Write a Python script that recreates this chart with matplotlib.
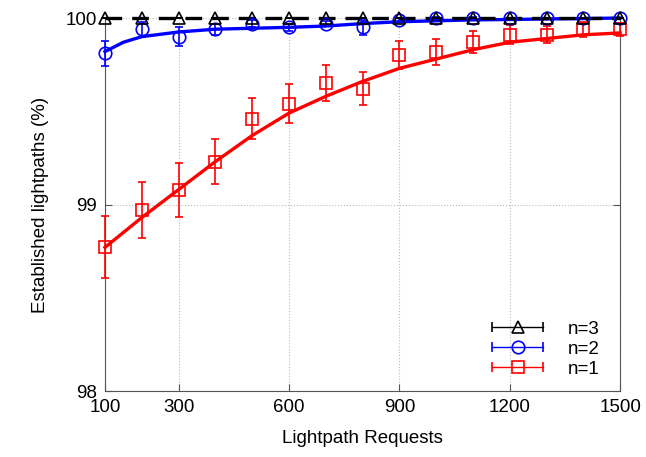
import matplotlib.pyplot as plt
from matplotlib.lines import Line2D
from matplotlib.legend_handler import HandlerLine2D, HandlerTuple

plt.rcParams['font.family'] = ['Liberation Sans', 'DejaVu Sans']

requests = [100, 200, 300, 400, 500, 600, 700, 800, 900, 1000, 1100, 1200, 1300, 1400, 1500]

# measured points with error bars
n1_mean = [98.77, 98.97, 99.08, 99.23, 99.46, 99.54, 99.65, 99.62, 99.80, 99.82, 99.87, 99.91, 99.91, 99.94, 99.94]
n1_err = [0.166, 0.15, 0.145, 0.12, 0.11, 0.105, 0.097, 0.088, 0.075, 0.07, 0.06, 0.05, 0.045, 0.04, 0.035]
n2_mean = [99.81, 99.94, 99.90, 99.94, 99.97, 99.95, 99.97, 99.95, 99.99, 100.0, 100.0, 100.0, 100.0, 100.0, 100.0]
n2_err = [0.065, 0.04, 0.05, 0.03, 0.02, 0.02, 0.015, 0.04, 0.01, 0.005, 0.005, 0.0, 0.0, 0.0, 0.0]
n3_mean = [100.0] * 15
n3_err = [0.0] * 15

# fitted curves
fit_x = [100, 150, 200, 300, 400, 500, 600, 700, 800, 900, 1000, 1100, 1200, 1300, 1400, 1500]
n1_fit = [98.77, 98.85, 98.93, 99.08, 99.23, 99.37, 99.49, 99.58, 99.66, 99.73, 99.78, 99.83, 99.87, 99.89, 99.91, 99.92]
n2_fit = [99.82, 99.87, 99.90, 99.925, 99.94, 99.945, 99.95, 99.957, 99.97, 99.98, 99.985, 99.99, 99.992, 99.995, 99.997, 100.0]
n3_fit = [100.0] * 16

fig = plt.figure(figsize=(6.46, 4.57), dpi=100)
ax = fig.add_axes([0.1625, 0.1444, 0.7975, 0.8162])

series = [
    (n3_mean, n3_err, n3_fit, 'black', '^', 'n=3', '--'),
    (n2_mean, n2_err, n2_fit, 'blue', 'o', 'n=2', '-'),
    (n1_mean, n1_err, n1_fit, 'red', 's', 'n=1', '-'),
]

handles = []
labels = []
hmap = {}
for mean, err, fit, c, m, lab, ls in series[::-1]:
    fl, = ax.plot(fit_x, fit, color=c, lw=2.4, ls=ls, clip_on=False, zorder=3)
    if ls == '--':
        fl.set_dashes((5, 3))
    eb = ax.errorbar(requests, mean, yerr=err, fmt=m, color=c, mfc='none', mec=c,
                     ms=9, mew=1.2, elinewidth=1.2, capsize=3, capthick=1.2, zorder=4)
    arts = [eb.lines[0]] + list(eb.lines[1]) + list(eb.lines[2])
    for art in arts:
        art.set_clip_on(False)

for mean, err, fit, c, m, lab, ls in series:
    capline = Line2D([], [], color=c, marker='|', ms=7, mew=1.2, lw=1.0)
    center = Line2D([], [], color=c, marker=m, mfc='none', mec=c, ms=9, mew=1.2, ls='none')
    hmap[capline] = HandlerLine2D(numpoints=2)
    handles.append((capline, center))
    labels.append(lab)

hmap[tuple] = HandlerTuple(ndivide=1, pad=0)
ax.legend(handles, labels, handler_map=hmap, loc='lower right', frameon=False,
          fontsize=13.5, handlelength=3.3, handletextpad=1.0, borderaxespad=0.3,
          labelspacing=0.15, bbox_to_anchor=(0.985, 0.0))

ax.set_xlim(100, 1500)
ax.set_ylim(98, 100)
ax.set_xticks([100, 300, 600, 900, 1200, 1500])
ax.set_yticks([98, 99, 100])
ax.tick_params(direction='in', labelsize=13.5, length=5, color='#555555',
               right=True, pad=6)
ax.grid(True, ls=':', color='#bbbbbb', lw=0.8)
for s in ['left', 'right', 'bottom']:
    ax.spines[s].set_color('#555555')
ax.spines['top'].set_visible(False)

ax.set_xlabel('Lightpath Requests', fontsize=13.5, labelpad=10)
ax.set_ylabel('Established lightpaths (%)', fontsize=13.5, labelpad=12)

fig.savefig('out.png', dpi=100)
